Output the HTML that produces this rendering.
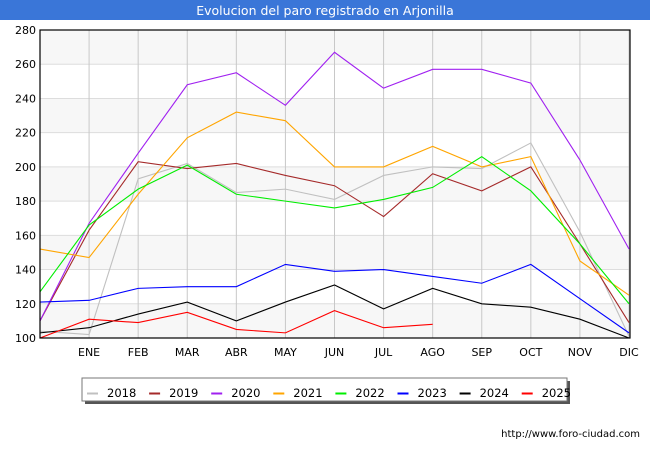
<!DOCTYPE html>
<html><head><meta charset="utf-8"><style>
body{margin:0;background:#fff;font-family:"Liberation Sans","DejaVu Sans",sans-serif;}
svg text{font-family:"DejaVu Sans","Liberation Sans",sans-serif;}
</style></head><body>
<svg id="c" width="650" height="450" viewBox="0 0 650 450" xmlns="http://www.w3.org/2000/svg">
<rect x="0" y="0" width="650" height="20" fill="#3a76d8"/>
<text x="325" y="15" text-anchor="middle" fill="#fff" font-size="12.5">Evolucion del paro registrado en Arjonilla</text>
<g id="grid"></g>
<g id="series"></g>
<rect x="40" y="30" width="590" height="308" fill="none" stroke="#000" stroke-width="1.2"/>
<g id="legend"></g>
<text x="640" y="437" text-anchor="end" font-size="10" fill="#000">http://www.foro-ciudad.com</text>
</svg>
<script>
const months=["","ENE","FEB","MAR","ABR","MAY","JUN","JUL","AGO","SEP","OCT","NOV","DIC"];
const yTicks=[100,120,140,160,180,200,220,240,260,280];
const years=["2018","2019","2020","2021","2022","2023","2024","2025"];
const colors=["#c0c0c0","#a52a2a","#a020f0","#ffa500","#00ee00","#0000ff","#000000","#ff0000"];
const s2018=[104,102,193,202,185,187,181,195,200,199,214,162,101];
const s2019=[110,163,203,199,202,195,189,171,196,186,200,155,109];
const s2020=[110,167,208,248,255,236,267,246,257,257,249,204,152];
const s2021=[152,147,184,217,232,227,200,200,212,200,206,145,125];
const s2022=[127,166,187,201,184,180,176,181,188,206,186,155,120];
const s2023=[121,122,129,130,130,143,139,140,136,132,143,123,103];
const s2024=[103,106,114,121,110,121,131,117,129,120,118,111,100];
const s2025=[100,111,109,115,105,103,116,106,108];
const allSeries=[s2018,s2019,s2020,s2021,s2022,s2023,s2024,s2025];
const NS="http://www.w3.org/2000/svg";
const X0=40,X1=629,Y0=338,Y1=30,vmin=100,vmax=280;
const xs=i=>X0+(X1-X0)*i/(months.length-1);
const ys=v=>Y0-(v-vmin)*(Y0-Y1)/(vmax-vmin);
function mk(t,a,p){const e=document.createElementNS(NS,t);for(const k in a)e.setAttribute(k,a[k]);p.appendChild(e);return e;}
const g=document.getElementById('grid');
for(let i=0;i<yTicks.length-1;i++){
  if(i%2==0){const r=mk('rect',{x:X0,y:ys(yTicks[i+1]),width:X1-X0+1,height:ys(yTicks[i])-ys(yTicks[i+1]),fill:'#f7f7f7'},g);
  
  }
}
yTicks.forEach(v=>{
  const l=mk('line',{x1:X0,x2:X1+1,y1:ys(v),y2:ys(v),stroke:'#dddddd','stroke-width':1},g);
  
  
  const t=mk('text',{x:X0-4,y:ys(v)+4,'text-anchor':'end','font-size':11,fill:'#000'},g);
  t.textContent=v;
  
  
});
months.forEach((m,i)=>{
  const l=mk('line',{x1:xs(i),x2:xs(i),y1:Y1,y2:Y0,stroke:'#c8c8c8','stroke-width':1},g);
  
  
  if(m){const t=mk('text',{x:xs(i),y:356,'text-anchor':'middle','font-size':11,fill:'#000'},g);
  t.textContent=m;
  
  }
});
const sg=document.getElementById('series');
allSeries.forEach((s,k)=>{
  const p=mk('polyline',{points:s.map((v,i)=>xs(i)+','+ys(v)).join(' '),fill:'none',stroke:colors[k],'stroke-width':1.1},sg);
  
  
});
const lg=document.getElementById('legend');
mk('rect',{x:85,y:381,width:485,height:23,fill:'#555'},lg);
const box=mk('rect',{x:82,y:378,width:485,height:23,fill:'#fff',stroke:'#777','stroke-width':1},lg);


years.forEach((y,k)=>{
  const bx=87+k*62.1;
  const l=mk('line',{x1:bx,x2:bx+11,y1:393.5,y2:393.5,stroke:colors[k],'stroke-width':2},lg);
  
  
  const t=mk('text',{x:bx+20,y:397,'font-size':11.5,fill:'#000'},lg);
  t.textContent=y;
  
  
});
</script>
</body></html>
